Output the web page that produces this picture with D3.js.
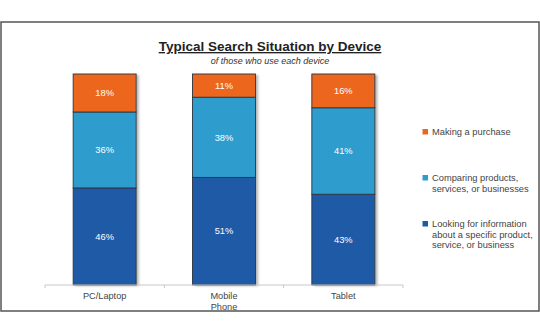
<!DOCTYPE html>
<html>
<head>
<meta charset="utf-8">
<script src="https://cdn.jsdelivr.net/npm/d3@7"></script>
<style>
  html, body { margin: 0; padding: 0; background: #fff; }
  svg { display: block; font-family: "Liberation Sans", Arial, sans-serif; }
</style>
</head>
<body>
<svg id="chart" width="540" height="334"></svg>
<script>
// Devices along the x axis (line breaks marked with \n)
const categories = ["PC/Laptop", "Mobile\nPhone", "Tablet"];

// Share of each search situation, per device (%), stacked bottom to top
const lookingInfo = [46, 51, 43];
const comparing   = [36, 38, 41];
const purchasing  = [18, 11, 16];

const seriesNames = [
  "Looking for information\nabout a specific product,\nservice, or business",
  "Comparing products,\nservices, or businesses",
  "Making a purchase"
];
const seriesColors = ["#1f5aa6", "#2e9dcd", "#ec661e"];

const svg = d3.select("#chart");

// Shadow used by the bars
const defs = svg.append("defs");
const shadow = defs.append("filter").attr("id", "barShadow")
  .attr("x", "-20%").attr("y", "-5%").attr("width", "150%").attr("height", "115%");
shadow.append("feDropShadow")
  .attr("dx", 2.5).attr("dy", 1).attr("stdDeviation", 1)
  .attr("flood-color", "#000").attr("flood-opacity", 0.3);

// Frame around the chart area
svg.append("rect")
  .attr("x", 1).attr("y", 22).attr("width", 538).attr("height", 289)
  .attr("fill", "#fff").attr("stroke", "#555").attr("stroke-width", 1.5);

// Title and subtitle
svg.append("text")
  .attr("x", 270).attr("y", 51)
  .attr("text-anchor", "middle")
  .attr("font-size", 13.5).attr("font-weight", "bold")
  .attr("fill", "#222")
  .attr("text-decoration", "underline")
  .text("Typical Search Situation by Device");

svg.append("text")
  .attr("x", 270).attr("y", 63.5)
  .attr("text-anchor", "middle")
  .attr("font-size", 9).attr("font-style", "italic")
  .attr("fill", "#333")
  .text("of those who use each device");

// Scales
const x = d3.scaleBand().domain(categories).range([45, 403]).padding(0);
const y = d3.scaleLinear().domain([0, 100]).range([285, 74]);
const barW = 63;

const rows = categories.map((c, i) => ({
  cat: c,
  s0: lookingInfo[i],
  s1: comparing[i],
  s2: purchasing[i]
}));
const stacked = d3.stack().keys(["s0", "s1", "s2"])(rows);

// Bars with a drop shadow under each full column
const barsG = svg.append("g");
barsG.selectAll("rect.shadowcol")
  .data(rows)
  .join("rect")
  .attr("class", "shadowcol")
  .attr("x", d => x(d.cat) + x.bandwidth() / 2 - barW / 2)
  .attr("width", barW)
  .attr("y", d => y(d.s0 + d.s1 + d.s2))
  .attr("height", d => y(0) - y(d.s0 + d.s1 + d.s2))
  .attr("fill", "#fff")
  .attr("filter", "url(#barShadow)");

stacked.forEach((layer, li) => {
  barsG.append("g")
    .selectAll("rect")
    .data(layer)
    .join("rect")
    .attr("x", d => x(d.data.cat) + x.bandwidth() / 2 - barW / 2)
    .attr("width", barW)
    .attr("y", d => y(d[1]))
    .attr("height", d => y(d[0]) - y(d[1]))
    .attr("fill", seriesColors[li])
    .attr("stroke", "#2a3440")
    .attr("stroke-width", 0.9);
});

// Value labels centred in each segment
stacked.forEach(layer => {
  barsG.append("g")
    .selectAll("text")
    .data(layer)
    .join("text")
    .attr("x", d => x(d.data.cat) + x.bandwidth() / 2)
    .attr("y", d => (y(d[0]) + y(d[1])) / 2 + 3.2)
    .attr("text-anchor", "middle")
    .attr("font-size", 9.3)
    .attr("fill", "#fff")
    .text(d => (d[1] - d[0]) + "%");
});

// Category axis: line with ticks at the band edges
const axisG = svg.append("g").attr("transform", `translate(0,${y(0)})`);
axisG.append("line")
  .attr("x1", x.range()[0]).attr("x2", x.range()[1])
  .attr("stroke", "#c8c8c8").attr("stroke-width", 1);
const edges = categories.map(c => x(c)).concat([x.range()[1]]);
axisG.selectAll("line.edge")
  .data(edges)
  .join("line")
  .attr("class", "edge")
  .attr("x1", d => d).attr("x2", d => d)
  .attr("y1", 0).attr("y2", 3)
  .attr("stroke", "#c8c8c8");

axisG.selectAll("text.cat")
  .data(categories)
  .join("text")
  .attr("class", "cat")
  .attr("text-anchor", "middle")
  .attr("font-size", 9.2)
  .attr("fill", "#444")
  .each(function (d) {
    const t = d3.select(this);
    d.split("\n").forEach((line, k) => {
      t.append("tspan")
        .attr("x", x(d) + x.bandwidth() / 2)
        .attr("y", 14.3 + k * 10.5)
        .text(line);
    });
  });

// Legend, top entry first
const legendOrder = [2, 1, 0];
const legendY = [132, 178, 224];
const legend = svg.append("g");
legendOrder.forEach((si, k) => {
  const g = legend.append("g").attr("transform", `translate(422,${legendY[k]})`);
  g.append("rect")
    .attr("x", 0.5).attr("y", -3).attr("width", 5.5).attr("height", 5.5)
    .attr("fill", seriesColors[si]);
  const t = g.append("text")
    .attr("font-size", 9.3).attr("fill", "#444");
  seriesNames[si].split("\n").forEach((line, j) => {
    t.append("tspan").attr("x", 10).attr("y", 3.3 + j * 10.3).text(line);
  });
});
</script>
</body>
</html>
